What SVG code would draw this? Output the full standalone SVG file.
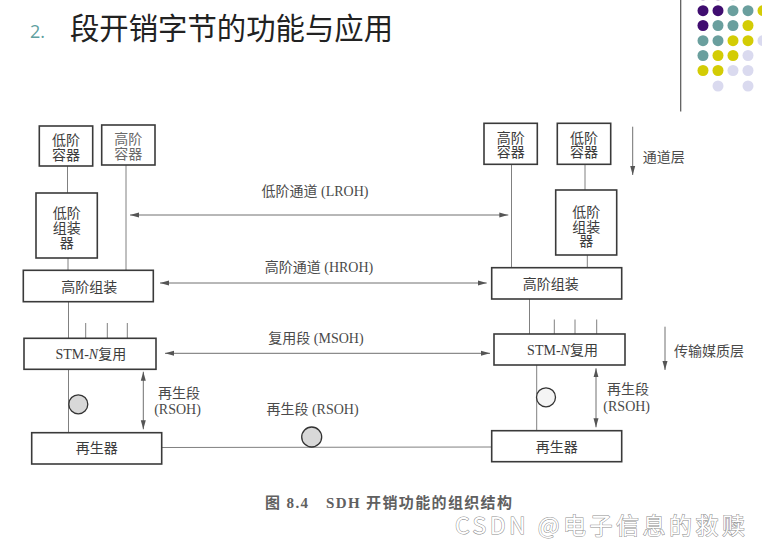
<svg xmlns="http://www.w3.org/2000/svg" width="762" height="540" viewBox="0 0 762 540">
<defs>
<style>
.bx{fill:#fff;stroke:#3a3a3a;stroke-width:1.6}
.ln{fill:none;stroke:#808080;stroke-width:1}
.ar{fill:none;stroke:#707070;stroke-width:1}
.t{font-family:"Liberation Serif","Noto Sans CJK SC",serif;font-size:14px;fill:#3c3c3c;text-anchor:middle}
.tl{font-family:"Liberation Serif","Noto Sans CJK SC",serif;font-size:14px;fill:#4a4a4a;text-anchor:middle}
.P{fill:#400d70}.T{fill:#6a9f9e}.Y{fill:#d3cc05}.L{fill:#dadaef}
</style>
<marker id="ah" viewBox="0 0 9 6" refX="9" refY="3" markerWidth="9" markerHeight="6" markerUnits="userSpaceOnUse" orient="auto-start-reverse">
<path d="M0,0.5 L9,3 L0,5.5 z" fill="#555"/>
</marker>
</defs>
<rect width="762" height="540" fill="#fff"/>

<g id="title">
<text x="30" y="38" font-family="'Open Sans','Noto Sans',sans-serif" font-size="18" fill="#5e9fa0">2.</text>
<text x="70" y="39" font-family="'Noto Sans CJK SC',sans-serif" font-size="30" fill="#222" textLength="323" lengthAdjust="spacingAndGlyphs">段开销字节的功能与应用</text>
</g>

<g id="decor">
<line x1="680.7" y1="0" x2="680.7" y2="111.5" stroke="#555" stroke-width="1.2"/>
<g>
<circle cx="703" cy="-5" r="5.5" class="P" opacity="0.5"/><circle cx="718" cy="-5" r="5.5" class="P" opacity="0.5"/><circle cx="733" cy="-5" r="5.5" class="T" opacity="0.4"/>
<circle cx="703" cy="10.7" r="5.5" class="P"/><circle cx="718" cy="10.7" r="5.5" class="P"/><circle cx="733" cy="10.7" r="5.5" class="T"/><circle cx="748" cy="10.7" r="5.5" class="T"/><circle cx="763" cy="10.7" r="5.5" class="Y"/>
<circle cx="703" cy="25.5" r="5.5" class="P"/><circle cx="718" cy="25.5" r="5.5" class="T"/><circle cx="733" cy="25.5" r="5.5" class="T"/><circle cx="748" cy="25.5" r="5.5" class="Y"/>
<circle cx="703" cy="40.7" r="5.5" class="T"/><circle cx="718" cy="40.7" r="5.5" class="T"/><circle cx="733" cy="40.7" r="5.5" class="Y"/><circle cx="748" cy="40.7" r="5.5" class="Y"/><circle cx="763" cy="40.7" r="5.5" class="L"/>
<circle cx="703" cy="55.5" r="5.5" class="T"/><circle cx="718" cy="55.5" r="5.5" class="Y"/><circle cx="733" cy="55.5" r="5.5" class="Y"/><circle cx="748" cy="55.5" r="5.5" class="L"/>
<circle cx="703" cy="70.5" r="5.5" class="Y"/><circle cx="718" cy="70.5" r="5.5" class="Y"/><circle cx="733" cy="70.5" r="5.5" class="L"/><circle cx="748" cy="70.5" r="5.5" class="L"/>
<circle cx="718" cy="86" r="5.5" class="L"/><circle cx="748" cy="86" r="5.5" class="L"/>
</g>
</g>

<g id="connectors">
<line class="ln" x1="67.5" y1="166" x2="67.5" y2="193"/>
<line class="ln" x1="126" y1="165" x2="126" y2="270"/>
<line class="ln" x1="68" y1="258" x2="68" y2="270"/>
<line class="ln" x1="68.5" y1="302" x2="68.5" y2="338"/>
<line class="ln" x1="85.7" y1="323" x2="85.7" y2="338"/>
<line class="ln" x1="107.3" y1="323" x2="107.3" y2="338"/>
<line class="ln" x1="127.3" y1="323" x2="127.3" y2="338"/>
<line class="ln" x1="68.5" y1="369" x2="68.5" y2="433"/>
<line class="ln" x1="511.5" y1="164" x2="511.5" y2="268"/>
<line class="ln" x1="585" y1="164" x2="585" y2="190"/>
<line class="ln" x1="587.3" y1="255" x2="587.3" y2="268"/>
<line class="ln" x1="529.5" y1="299" x2="529.5" y2="334"/>
<line class="ln" x1="554.3" y1="319.5" x2="554.3" y2="334"/>
<line class="ln" x1="575" y1="319.5" x2="575" y2="334"/>
<line class="ln" x1="596.7" y1="319.5" x2="596.7" y2="334"/>
<line class="ln" x1="536.7" y1="365" x2="536.7" y2="431"/>
<line class="ar" x1="130" y1="215" x2="508.3" y2="215" marker-start="url(#ah)" marker-end="url(#ah)"/>
<line class="ar" x1="160" y1="283" x2="486.7" y2="283" marker-start="url(#ah)" marker-end="url(#ah)"/>
<line class="ar" x1="165" y1="353.3" x2="490" y2="353.3" marker-start="url(#ah)" marker-end="url(#ah)"/>
<line class="ar" x1="143.3" y1="371.7" x2="143.3" y2="429.3" marker-start="url(#ah)" marker-end="url(#ah)"/>
<line class="ar" x1="596" y1="368.3" x2="596" y2="427.3" marker-start="url(#ah)" marker-end="url(#ah)"/>
<line class="ar" x1="632.7" y1="126.7" x2="632.7" y2="175" marker-end="url(#ah)"/>
<line class="ar" x1="665" y1="326.7" x2="665" y2="370" marker-end="url(#ah)"/>
<line class="ln" x1="162" y1="447.5" x2="492" y2="447"/>
</g>

<g id="regen-circles">
<circle cx="78.3" cy="404.3" r="9.5" fill="#d8d8d8" stroke="#333" stroke-width="1.3"/>
<circle cx="311.7" cy="437" r="10" fill="#d8d8d8" stroke="#333" stroke-width="1.3"/>
<circle cx="546" cy="397.3" r="9.5" fill="#f4f4f4" stroke="#333" stroke-width="1.3"/>
</g>

<g id="L-lo-container">
<rect class="bx" x="39.3" y="126" width="53.4" height="40"/>
<text class="t" x="66" y="145">低阶</text>
<text class="t" x="66" y="159.5">容器</text>
</g>
<g id="L-hi-container">
<rect class="bx" x="101.7" y="125" width="53.3" height="40"/>
<text class="t" x="128.3" y="144" style="fill:#6a6a6a">高阶</text>
<text class="t" x="128.3" y="158.5" style="fill:#6a6a6a">容器</text>
</g>
<g id="L-lo-assembler">
<rect class="bx" x="36" y="193" width="61.3" height="65"/>
<text class="t" x="66.7" y="218">低阶</text>
<text class="t" x="66.7" y="232.5">组装</text>
<text class="t" x="66.7" y="247.5">器</text>
</g>
<g id="L-hi-assembly">
<rect class="bx" x="23.3" y="270.3" width="130" height="31.4"/>
<text class="t" x="89.3" y="292">高阶组装</text>
</g>
<g id="L-stm">
<rect class="bx" x="24" y="338.3" width="132" height="31"/>
<text class="t" x="90.8" y="359">STM-<tspan font-style="italic">N</tspan>复用</text>
</g>
<g id="L-regen">
<rect class="bx" x="31.7" y="432.7" width="130" height="31.3"/>
<text class="t" x="96.7" y="452.5">再生器</text>
</g>

<g id="R-hi-container">
<rect class="bx" x="484" y="123.3" width="53.3" height="41"/>
<text class="t" x="510.7" y="143">高阶</text>
<text class="t" x="510.7" y="157">容器</text>
</g>
<g id="R-lo-container">
<rect class="bx" x="557.3" y="123.3" width="53.4" height="41"/>
<text class="t" x="584" y="143">低阶</text>
<text class="t" x="584" y="157">容器</text>
</g>
<g id="R-lo-assembler">
<rect class="bx" x="555.7" y="190" width="61" height="65"/>
<text class="t" x="586.2" y="217">低阶</text>
<text class="t" x="586.2" y="231.5">组装</text>
<text class="t" x="586.2" y="246">器</text>
</g>
<g id="R-hi-assembly">
<rect class="bx" x="491.7" y="267.7" width="130" height="31.3"/>
<text class="t" x="550.8" y="288.5">高阶组装</text>
</g>
<g id="R-stm">
<rect class="bx" x="494" y="334" width="131" height="31"/>
<text class="t" x="562.5" y="355">STM-<tspan font-style="italic">N</tspan>复用</text>
</g>
<g id="R-regen">
<rect class="bx" x="491.7" y="430.7" width="130" height="31"/>
<text class="t" x="556.7" y="451.5">再生器</text>
</g>

<g id="labels">
<text class="tl" x="315" y="196">低阶通道 (LROH)</text>
<text class="tl" x="319" y="272">高阶通道 (HROH)</text>
<text class="tl" x="316" y="343">复用段 (MSOH)</text>
<text class="tl" x="179" y="398">再生段</text>
<text class="tl" x="177.5" y="413.5">(RSOH)</text>
<text class="tl" x="312.5" y="413.5">再生段 (RSOH)</text>
<text class="tl" x="628" y="393.5">再生段</text>
<text class="tl" x="626.7" y="410.5">(RSOH)</text>
<text class="tl" x="642.7" y="162" style="text-anchor:start">通道层</text>
<text class="tl" x="674" y="356" style="text-anchor:start">传输媒质层</text>
</g>

<g id="caption">
<text x="265" y="508" font-family="'Liberation Serif','Noto Sans CJK SC',serif" font-size="15" font-weight="bold" fill="#606060" textLength="43" lengthAdjust="spacing">图 8.4</text>
<text x="326" y="508" font-family="'Liberation Serif','Noto Sans CJK SC',serif" font-size="15" font-weight="bold" fill="#606060" textLength="186" lengthAdjust="spacing">SDH 开销功能的组织结构</text>
</g>

<g id="watermark">
<text x="455" y="534" font-family="'Noto Sans CJK SC','Liberation Sans',sans-serif" font-size="23" fill="#fff" stroke="#8c8c8c" stroke-width="1" paint-order="stroke" textLength="290" lengthAdjust="spacing">CSDN @电子信息的救赎</text>
</g>
</svg>
